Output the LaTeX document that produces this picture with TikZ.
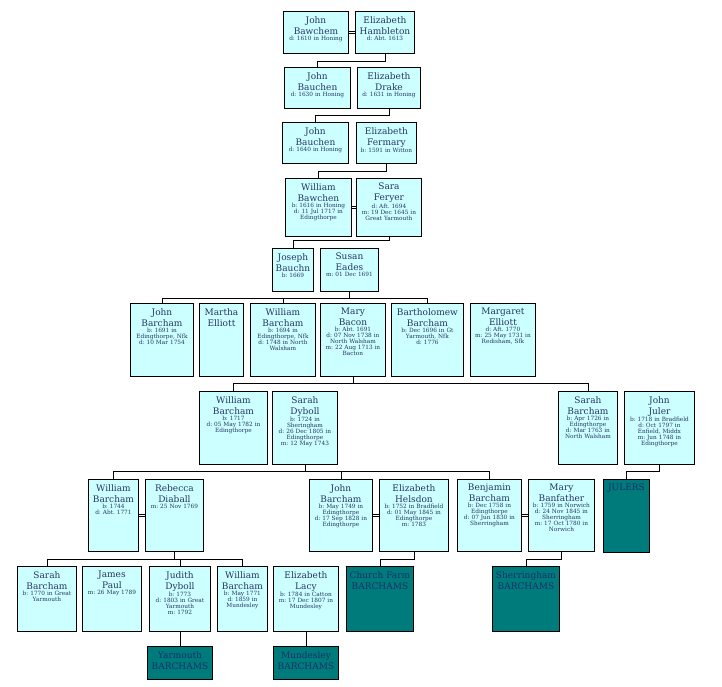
\documentclass[tikz,border=0pt]{standalone}
\usepackage{fontspec}
\setmainfont{DejaVu Serif}
\definecolor{boxfill}{HTML}{CCFFFF}
\definecolor{clanfill}{HTML}{007B7B}
\definecolor{ink}{HTML}{263463}
\definecolor{clanink}{HTML}{1B2F6B}

\begin{document}
\begin{tikzpicture}[x=1pt, y=-1pt,
  person/.style={draw, line width=0.9pt, fill=boxfill, anchor=north west, inner sep=0pt},
  clan/.style={draw, line width=0.9pt, fill=clanfill, anchor=north west, inner sep=0pt},
  who/.style={anchor=north, text width=80pt, align=center, inner xsep=2pt, inner ysep=5pt, text=ink, font=\fontsize{5.8}{6}\selectfont\frenchspacing},
  clanname/.style={anchor=north, text width=80pt, align=center, inner xsep=2pt, inner ysep=5pt, text=clanink, font=\fontsize{9}{11.5}\selectfont},
  wed/.style={double, double distance=1.4pt, line width=0.6pt},
  kin/.style={line width=0.9pt}]

\useasboundingbox (0,0) rectangle (722,686);

% 1
\node[person, minimum width=65pt, minimum height=42pt, label={[who]north:{\small John\\Bawchem\endgraf}d: 1610 in Honing}] (jbawchem) at (283,11) {};
\node[person, minimum width=59pt, minimum height=42pt, label={[who]north:{\small Elizabeth\\Hambleton\endgraf}d: Abt. 1613}] (ehambleton) at (355,11) {};
\draw[wed] (jbawchem.east) -- (ehambleton.west);

% 2
\node[person, minimum width=66pt, minimum height=41pt, label={[who]north:{\small John\\Bauchen\endgraf}d: 1630 in Honing}] (jbauchen) at (284,67) {};
\node[person, minimum width=63pt, minimum height=41pt, label={[who]north:{\small Elizabeth\\Drake\endgraf}d: 1631 in Honing}] (edrake) at (357,67) {};
\draw[wed] (jbauchen.east) -- (edrake.west);
\draw[kin] (ehambleton.south) -- ++(0,8) -| (jbauchen.north);

% 3
\node[person, minimum width=66pt, minimum height=41pt, label={[who]north:{\small John\\Bauchen\endgraf}d: 1640 in Honing}] (jbauchenb) at (282,122) {};
\node[person, minimum width=60pt, minimum height=41pt, label={[who]north:{\small Elizabeth\\Fermary\endgraf}b: 1591 in Witton}] (efermary) at (356,122) {};
\draw[wed] (jbauchenb.east) -- (efermary.west);
\draw[kin] (edrake.south) -- ++(0,7) -| (jbauchenb.north);

% 4
\node[person, minimum width=66pt, minimum height=58pt, label={[who]north:{\small William\\Bawchen\endgraf}b: 1616 in Honing\\d: 11 Jul 1717 in\\Edingthorpe}] (wbawchen) at (285,178) {};
\node[person, minimum width=65pt, minimum height=58pt, label={[who]north:{\small Sara\\Feryer\endgraf}d: Aft. 1694\\m: 19 Dec 1645 in\\Great Yarmouth}] (sferyer) at (356,178) {};
\draw[wed] (wbawchen.east) -- (sferyer.west);
\draw[kin] (efermary.south) -- ++(0,8) -| (wbawchen.north);

% 5
\node[person, minimum width=41pt, minimum height=43pt, label={[who]north:{\small Joseph\\Bauchn\endgraf}b: 1669}] (jbauchn) at (272,248) {};
\node[person, minimum width=58pt, minimum height=43pt, label={[who]north:{\small Susan\\Eades\endgraf}m: 01 Dec 1691}] (seades) at (320,248) {};
\draw[wed] (jbauchn.east) -- (seades.west);
\draw[kin] (sferyer.south) -- ++(0,4) -| (jbauchn.north);

% 6
\node[person, minimum width=63pt, minimum height=73pt, label={[who]north:{\small John\\Barcham\endgraf}b: 1691 in\\Edingthorpe, Nfk\\d: 10 Mar 1754}] (jbarcham) at (130,303) {};
\node[person, minimum width=44pt, minimum height=73pt, label={[who]north:{\small Martha\\Elliott\endgraf}}] (melliott) at (199,303) {};
\node[person, minimum width=65pt, minimum height=73pt, label={[who]north:{\small William\\Barcham\endgraf}b: 1694 in\\Edingthorpe, Nfk\\d: 1748 in North\\Walsham}] (wbarcham) at (250,303) {};
\node[person, minimum width=65pt, minimum height=73pt, label={[who]north:{\small Mary\\Bacon\endgraf}b: Abt. 1691\\d: 07 Nov 1738 in\\North Walsham\\m: 22 Aug 1713 in\\Bacton}] (mbacon) at (320,303) {};
\node[person, minimum width=72pt, minimum height=73pt, label={[who]north:{\small Bartholomew\\Barcham\endgraf}b: Dec 1696 in Gt\\Yarmouth, Nfk\\d: 1776}] (bbarcham) at (391,303) {};
\node[person, minimum width=65pt, minimum height=73pt, label={[who]north:{\small Margaret\\Elliott\endgraf}d: Aft. 1770\\m: 25 May 1731 in\\Redisham, Sfk}] (margelliott) at (470,303) {};
\draw[wed] (jbarcham.east) -- (melliott.west);
\draw[wed] (wbarcham.east) -- (mbacon.west);
\draw[wed] (bbarcham.east) -- (margelliott.west);
\coordinate (fork6) at ([yshift=-7pt]seades.south);
\draw[kin] (seades.south) -- (fork6) -| (jbarcham.north);
\draw[kin] (fork6) -| (wbarcham.north);
\draw[kin] (fork6) -| (bbarcham.north);

% 7
\node[person, minimum width=68pt, minimum height=73pt, label={[who]north:{\small William\\Barcham\endgraf}b: 1717\\d: 05 May 1782 in\\Edingthorpe}] (wbarchamb) at (199,391) {};
\node[person, minimum width=65pt, minimum height=73pt, label={[who]north:{\small Sarah\\Dyboll\endgraf}b: 1724 in\\Sheringham\\d: 26 Dec 1805 in\\Edingthorpe\\m: 12 May 1743}] (sdyboll) at (272,391) {};
\node[person, minimum width=59pt, minimum height=73pt, label={[who]north:{\small Sarah\\Barcham\endgraf}b: Apr 1726 in\\Edingthorpe\\d: Mar 1763 in\\North Walsham}] (sbarcham) at (558,391) {};
\node[person, minimum width=70pt, minimum height=73pt, label={[who]north:{\small John\\Juler\endgraf}b: 1718 in Bradfield\\d: Oct 1797 in\\Enfield, Middx\\m: Jun 1748 in\\Edingthorpe}] (jjuler) at (624,391) {};
\draw[wed] (wbarchamb.east) -- (sdyboll.west);
\draw[wed] (sbarcham.east) -- (jjuler.west);
\coordinate (fork7) at ([yshift=-7pt]mbacon.south);
\draw[kin] (mbacon.south) -- (fork7) -| (wbarchamb.north);
\draw[kin] (fork7) -| (sbarcham.north);

% 8
\node[person, minimum width=50pt, minimum height=72pt, label={[who]north:{\small William\\Barcham\endgraf}b: 1744\\d: Abt. 1771}] (wbarchamc) at (88,479) {};
\node[person, minimum width=58pt, minimum height=72pt, label={[who]north:{\small Rebecca\\Diaball\endgraf}m: 25 Nov 1769}] (rdiaball) at (145,479) {};
\node[person, minimum width=63pt, minimum height=72pt, label={[who]north:{\small John\\Barcham\endgraf}b: May 1749 in\\Edingthorpe\\d: 17 Sep 1828 in\\Edingthorpe}] (jbarchamb) at (309,479) {};
\node[person, minimum width=69pt, minimum height=72pt, label={[who]north:{\small Elizabeth\\Helsdon\endgraf}b: 1752 in Bradfield\\d: 01 May 1845 in\\Edingthorpe\\m: 1783}] (ehelsdon) at (379,479) {};
\node[person, minimum width=64pt, minimum height=72pt, label={[who]north:{\small Benjamin\\Barcham\endgraf}b: Dec 1758 in\\Edingthorpe\\d: 07 Jun 1830 in\\Sherringham}] (benbarcham) at (457,479) {};
\node[person, minimum width=66pt, minimum height=72pt, label={[who]north:{\small Mary\\Banfather\endgraf}b: 1759 in Norwich\\d: 24 Nov 1845 in\\Sherringham\\m: 17 Oct 1780 in\\Norwich}] (mbanfather) at (528,479) {};
\node[clan, minimum width=46pt, minimum height=73pt, label={[clanname]north:JULERS}] (julers) at (603,479) {};
\draw[wed] (wbarchamc.east) -- (rdiaball.west);
\draw[wed] (jbarchamb.east) -- (ehelsdon.west);
\draw[wed] (benbarcham.east) -- (mbanfather.west);
\coordinate (fork8) at ([yshift=-7pt]sdyboll.south);
\draw[kin] (sdyboll.south) -- (fork8) -| (wbarchamc.north);
\draw[kin] (fork8) -| (jbarchamb.north);
\draw[kin] (fork8) -| (benbarcham.north);
\draw[kin] (jjuler.south) -- ++(0,7) -| (julers.north);

% 9
\node[person, minimum width=59pt, minimum height=65pt, label={[who]north:{\small Sarah\\Barcham\endgraf}b: 1770 in Great\\Yarmouth}] (sbarchamb) at (17,566) {};
\node[person, minimum width=59pt, minimum height=65pt, label={[who]north:{\small James\\Paul\endgraf}m: 26 May 1789}] (jpaul) at (82,566) {};
\node[person, minimum width=61pt, minimum height=65pt, label={[who]north:{\small Judith\\Dyboll\endgraf}b: 1773\\d: 1803 in Great\\Yarmouth\\m: 1792}] (jdyboll) at (149,566) {};
\node[person, minimum width=50pt, minimum height=65pt, label={[who]north:{\small William\\Barcham\endgraf}b: May 1771\\d: 1859 in\\Mundesley}] (wbarchamd) at (217,566) {};
\node[person, minimum width=65pt, minimum height=65pt, label={[who]north:{\small Elizabeth\\Lacy\endgraf}b: 1784 in Catton\\m: 17 Dec 1807 in\\Mundesley}] (elacy) at (273,566) {};
\node[clan, minimum width=67pt, minimum height=65pt, label={[clanname]north:Church Farm\\BARCHAMS}] (churchfarm) at (346,566) {};
\node[clan, minimum width=67pt, minimum height=65pt, label={[clanname]north:Sherringham\\BARCHAMS}] (sherringham) at (492,566) {};
\draw[wed] (sbarchamb.east) -- (jpaul.west);
\draw[wed] (jdyboll.east) -- (wbarchamd.west);
\draw[wed] (wbarchamd.east) -- (elacy.west);
\coordinate (fork9) at ([yshift=-8pt]rdiaball.south);
\draw[kin] (rdiaball.south) -- (fork9) -| (sbarchamb.north);
\draw[kin] (fork9) -| (jdyboll.north);
\draw[kin] (fork9) -| (wbarchamd.north);
\draw[kin] (ehelsdon.south) -- ++(0,8) -| (churchfarm.north);
\draw[kin] (mbanfather.south) -- ++(0,8) -| (sherringham.north);

% 10
\node[clan, minimum width=65pt, minimum height=33pt, label={[clanname]north:Yarmouth\\BARCHAMS}] (yarmouth) at (147,646) {};
\node[clan, minimum width=65pt, minimum height=33pt, label={[clanname]north:Mundesley\\BARCHAMS}] (mundesley) at (273,646) {};
\draw[kin] (jdyboll.south) -- (yarmouth.north);
\draw[kin] (elacy.south) -- (mundesley.north);

\end{tikzpicture}
\end{document}
